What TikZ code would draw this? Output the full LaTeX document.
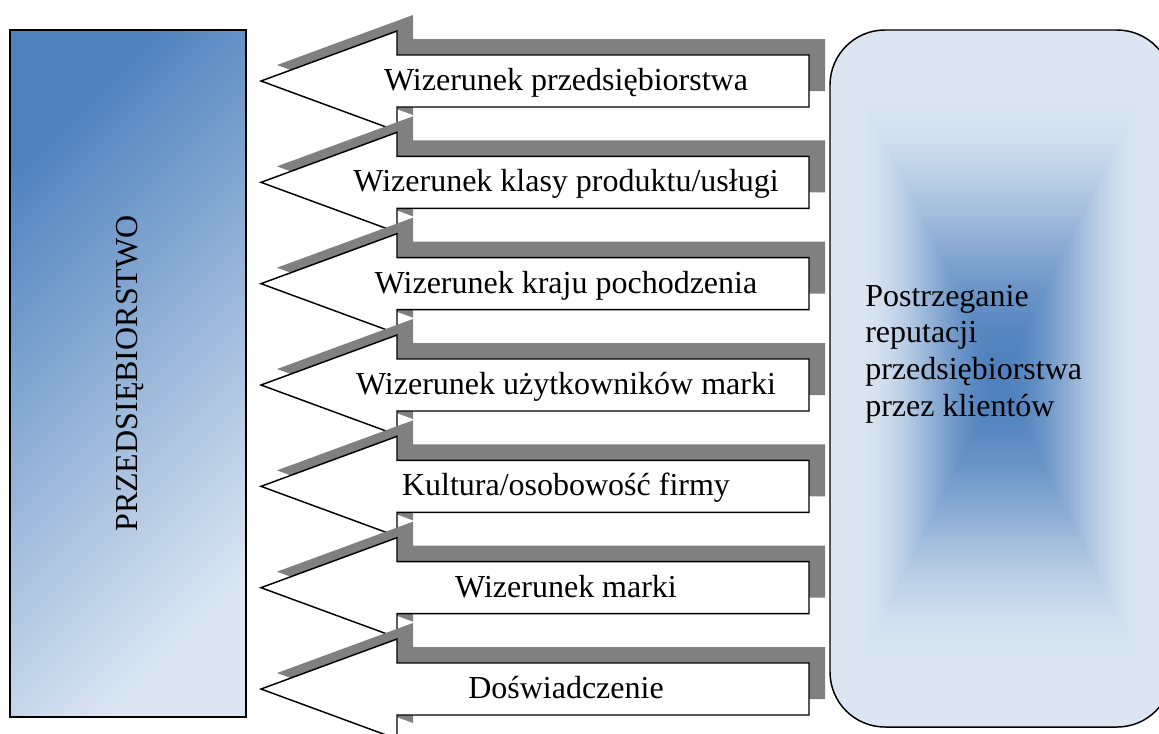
\documentclass[tikz,border=0pt]{standalone}
\usepackage{fontspec}
\setmainfont{Liberation Serif}
\definecolor{darkblue}{HTML}{4F81BD}
\definecolor{lightblue}{HTML}{DCE6F2}
\definecolor{shadowgray}{HTML}{808080}
\tikzset{
  arrowline/.style={draw=black, line width=1.1pt, fill=white, line join=miter},
  arrowshadow/.style={fill=shadowgray},
  labeltext/.style={font=\fontsize{24}{27.5}\selectfont, inner sep=0pt},
  boxline/.style={draw=black, line width=1.1pt},
}
\newcommand\myarrow[1]{%
  \fill[arrowshadow, shift={(16,-16)}] (261,#1) -- (397,#1-50) -- (397,#1-26) -- (809,#1-26) -- (809,#1+26) -- (397,#1+26) -- (397,#1+50) -- cycle;
  \draw[arrowline] (261,#1) -- (397,#1-50) -- (397,#1-26) -- (809,#1-26) -- (809,#1+26) -- (397,#1+26) -- (397,#1+50) -- cycle;
}
\begin{document}
\begin{tikzpicture}[x=0.75pt, y=-0.75pt]
\useasboundingbox (0,0) rectangle (1159,733);
\clip (0,0) rectangle (1159,733);
\fill[white] (0,0) rectangle (1159,733);
% left box
\shade[top color=darkblue, bottom color=lightblue, shading angle=45] (10,30) rectangle (246,717);
\draw[boxline] (10,30) rectangle (246,717);
\node[labeltext, rotate=90, anchor=base] (lt) at (137,373.5) {PRZEDSIĘBIORSTWO};
% right box
\begin{scope}
  \clip[rounded corners=41.25pt] (830,30) rectangle (1172,727);
  \fill[lightblue] (830,30) rectangle (1172,727);
  \foreach \i in {100,99,...,1} {
    \pgfmathsetmacro\rr{\i/100}
    \pgfmathtruncatemacro\pp{100*(1-cos(180*min(1,\rr/0.85)))/2}
    \fill[lightblue!\pp!darkblue] ({1001-171*\rr},{378.5-348.5*\rr}) rectangle ({1001+171*\rr},{378.5+348.5*\rr});
  }
\end{scope}
\draw[boxline, rounded corners=41.25pt] (830,30) rectangle (1172,727);
\node[labeltext, align=left, anchor=base west] (rt) at (865,416) {Postrzeganie\\reputacji\\przedsiębiorstwa\\przez klientów};
% arrows
\myarrow{81}
\node[labeltext, anchor=base] (a1) at (566,90.5) {Wizerunek przedsiębiorstwa};
\myarrow{182.33}
\node[labeltext, anchor=base] (a2) at (566,191.8) {Wizerunek klasy produktu/usługi};
\myarrow{283.67}
\node[labeltext, anchor=base] (a3) at (566,293.2) {Wizerunek kraju pochodzenia};
\myarrow{385}
\node[labeltext, anchor=base] (a4) at (566,394.5) {Wizerunek użytkowników marki};
\myarrow{486.33}
\node[labeltext, anchor=base] (a5) at (566,495.8) {Kultura/osobowość firmy};
\myarrow{587.67}
\node[labeltext, anchor=base] (a6) at (566,597.2) {Wizerunek marki};
\myarrow{689}
\node[labeltext, anchor=base] (a7) at (566,698.5) {Doświadczenie};
\end{tikzpicture}
\end{document}
